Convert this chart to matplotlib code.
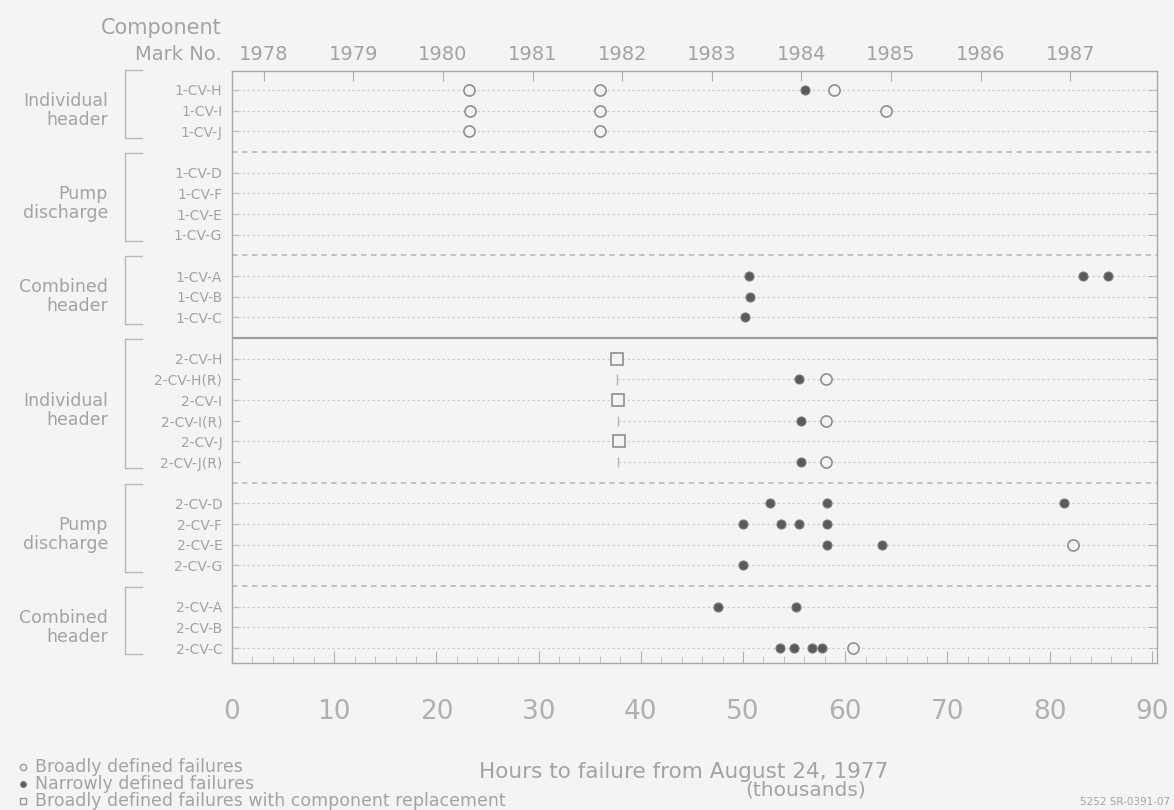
import numpy as np
import matplotlib.pyplot as plt
from matplotlib.ticker import MultipleLocator

# Component rows, top to bottom, with the system group each belongs to
components = [
    "1-CV-H", "1-CV-I", "1-CV-J",
    "1-CV-D", "1-CV-F", "1-CV-E", "1-CV-G",
    "1-CV-A", "1-CV-B", "1-CV-C",
    "2-CV-H", "2-CV-H(R)", "2-CV-I", "2-CV-I(R)", "2-CV-J", "2-CV-J(R)",
    "2-CV-D", "2-CV-F", "2-CV-E", "2-CV-G",
    "2-CV-A", "2-CV-B", "2-CV-C",
]
group_names = ["Individual\nheader", "Pump\ndischarge", "Combined\nheader",
               "Individual\nheader", "Pump\ndischarge", "Combined\nheader"]
group_sizes = [3, 4, 3, 6, 4, 3]
years = list(range(1978, 1988))
x_ticks = list(range(0, 100, 10))

# Hours to failure (thousands) from August 24, 1977
narrow_failures = {
    "1-CV-H": [56.1],
    "1-CV-A": [50.6, 83.3, 85.7],
    "1-CV-B": [50.7],
    "1-CV-C": [50.2],
    "2-CV-H(R)": [55.5],
    "2-CV-I(R)": [55.7],
    "2-CV-J(R)": [55.7],
    "2-CV-D": [52.6, 58.2, 81.4],
    "2-CV-F": [50.0, 53.7, 55.5, 58.2],
    "2-CV-E": [58.2, 63.6],
    "2-CV-G": [50.0],
    "2-CV-A": [47.6, 55.2],
    "2-CV-C": [53.6, 55.0, 56.7, 57.7],
}
broad_failures = {
    "1-CV-H": [23.2, 36.0, 58.9],
    "1-CV-I": [23.3, 36.0, 64.0],
    "1-CV-J": [23.2, 36.0],
    "2-CV-H(R)": [58.1],
    "2-CV-I(R)": [58.1],
    "2-CV-J(R)": [58.1],
    "2-CV-E": [82.3],
    "2-CV-C": [60.8],
}
replaced_failures = {
    "2-CV-H": [37.7],
    "2-CV-I": [37.8],
    "2-CV-J": [37.9],
}
# replacement components enter service when the originals are replaced
service_start = {"2-CV-H(R)": 37.7, "2-CV-I(R)": 37.8, "2-CV-J(R)": 37.8}

BG = "#f4f4f4"
INK = "#a3a3a3"
DOT = "#5a5a5a"
plt.rcParams["font.family"] = "DejaVu Sans"

# lay out rows: one blank slot between groups
row_pos = {}
sep_pos = []
group_span = []
slot = 0
i = 0
for size in group_sizes:
    first = slot
    for name in components[i:i + size]:
        row_pos[name] = slot
        slot += 1
    group_span.append((first, slot - 1))
    i += size
    sep_pos.append(slot)
    slot += 1
sep_pos = sep_pos[:-1]
unit_break = sep_pos[2]

fig = plt.figure(figsize=(11.74, 8.10), dpi=100, facecolor=BG)
ax = fig.add_axes([0.1976, 0.18148, 0.7879, 0.7309], facecolor=BG)
ax.set_xlim(0, 90.5)
ax.set_ylim(27.72, -0.92)

# faint row guides
for name, y in row_pos.items():
    x0 = service_start.get(name, 0)
    ax.hlines(y, x0, 90.5, colors="#cfcfcf", lw=0.9, linestyles=(0, (2, 2)))
    if name in service_start:
        ax.vlines(x0, y - 0.25, y + 0.25, colors="#b5b5b5", lw=1)

for y in sep_pos:
    if y == unit_break:
        ax.hlines(y, 0, 90.5, colors="#9d9d9d", lw=1.6)
    else:
        ax.hlines(y, 0, 90.5, colors="#bdbdbd", lw=1.3, linestyles=(0, (3, 2.5)))

for name, xs in broad_failures.items():
    ax.plot(xs, [row_pos[name]] * len(xs), "o", ms=8, mfc=BG, mec="#8f8f8f", mew=1.2, zorder=3)
for name, xs in replaced_failures.items():
    ax.plot(xs, [row_pos[name]] * len(xs), "s", ms=8.5, mfc=BG, mec="#8f8f8f", mew=1.2, zorder=3)
for name, xs in narrow_failures.items():
    ax.plot(xs, [row_pos[name]] * len(xs), "o", ms=6.5, mfc=DOT, mec="#7a7a7a", mew=0.8, zorder=4)

# axes styling
for side in ax.spines.values():
    side.set_color("#a8a8a8")
    side.set_linewidth(1)
ax.set_yticks(list(row_pos.values()), list(row_pos.keys()))
ax.tick_params(axis="y", direction="in", length=6, left=True, right=True,
               color="#b0b0b0", pad=7, labelsize=10, labelcolor=INK)
ax.set_xticks(x_ticks)
ax.xaxis.set_minor_locator(MultipleLocator(2))
ax.tick_params(axis="x", which="major", direction="in", length=9, color="#b0b0b0",
               pad=26, labelsize=19, labelcolor="#b0b0b0")
ax.tick_params(axis="x", which="minor", direction="in", length=5, color="#b8b8b8")

# calendar years along the top
year_hours = [(np.datetime64(f"{y}-01-01") - np.datetime64("1977-08-24")).astype(int) * 24 / 1000
              for y in years]
top = ax.secondary_xaxis("top")
top.set_xticks(year_hours, [str(y) for y in years])
top.tick_params(direction="in", length=7, color="#b0b0b0", pad=5, labelsize=14, labelcolor=INK)
top.spines["top"].set_visible(False)

# group brackets and names
tr = ax.get_yaxis_transform()
for (first, last), label in zip(group_span, group_names):
    y0, y1 = first - 0.95, last + 0.3
    ax.plot([-0.0973, -0.1157, -0.1157, -0.0973], [y0, y0, y1, y1], color="#b8b8b8",
            lw=1.0, transform=tr, clip_on=False)
    ax.text(-0.134, (first + last) / 2, label, transform=tr, ha="right", va="center",
            ma="right", fontsize=12.5, color=INK, linespacing=1.05)

fig.text(222 / 1174, 1 - 28 / 810, "Component", ha="right", va="center", fontsize=15, color=INK)
fig.text(222 / 1174, 1 - 54 / 810, "Mark No.", ha="right", va="center", fontsize=14, color=INK)

fig.text(684 / 1174, 1 - 772 / 810, "Hours to failure from August 24, 1977",
         ha="center", va="center", fontsize=15.5, color=INK)
fig.text(806 / 1174, 1 - 790 / 810, "(thousands)", ha="center", va="center", fontsize=14.5, color=INK)

# key
key = [("o", 4.5, BG, "#9a9a9a", "Broadly defined failures"),
       ("o", 4, DOT, "#7a7a7a", "Narrowly defined failures"),
       ("s", 4.5, BG, "#9a9a9a", "Broadly defined failures with component replacement")]
for k, (m, ms, fc, ec, text) in enumerate(key):
    yk = 1 - (767 + 17 * k) / 810
    fig.lines.append(plt.Line2D([23 / 1174], [yk], marker=m, ms=ms, mfc=fc, mec=ec,
                                transform=fig.transFigure, linestyle="none"))
    fig.text(35 / 1174, yk, text, ha="left", va="center", fontsize=12.5, color=INK)

fig.text(1170 / 1174, 1 - 802 / 810, "5252 SR-0391-07", ha="right", va="center",
         fontsize=7.5, color=INK)

fig.savefig("out.png", dpi=100, facecolor=BG)
